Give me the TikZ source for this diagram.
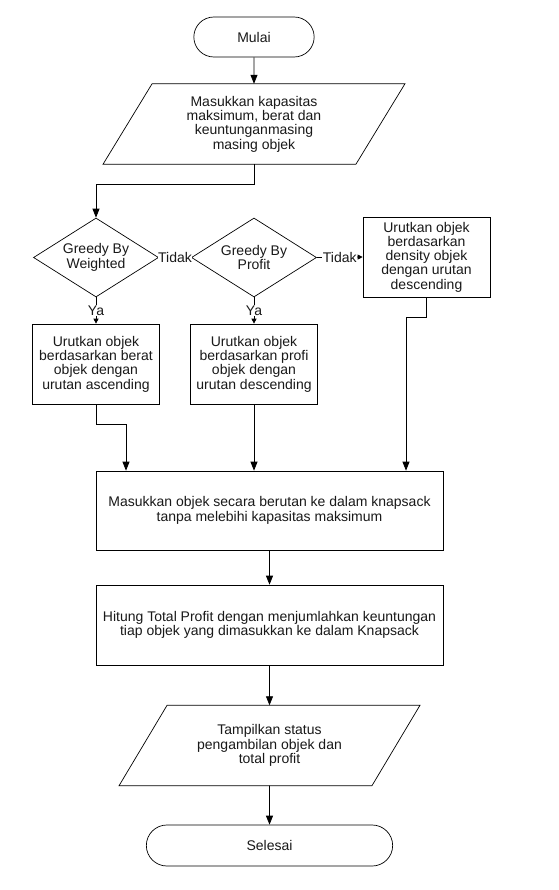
\documentclass[tikz,border=0pt]{standalone}
\usepackage{fontspec}
\setmainfont{Liberation Sans}
\usetikzlibrary{shapes.geometric,shapes.misc,arrows.meta,calc}
\begin{document}
\begin{tikzpicture}[x=1pt,y=1pt,
 every node/.style={font=\fontsize{14}{14.3}\selectfont, text=black!90, align=center},
 term/.style={draw, rounded rectangle, minimum width=127pt, minimum height=40pt, line width=0.7pt},
 proc/.style={draw, rectangle, line width=0.7pt, inner sep=0pt},
 dec/.style={draw, diamond, minimum width=125pt, minimum height=79pt, shape aspect=1.58, inner sep=0pt, line width=0.7pt},
 iobox/.style={rectangle, minimum width=252.5pt, minimum height=80pt, inner sep=0pt},
 para/.style={line width=0.7pt},
 flow/.style={line width=0.8pt, -{Triangle[length=9pt,width=7pt]}},
 sflow/.style={line width=0.8pt, -{Triangle[length=5pt,width=5pt]}},
 lab/.style={fill=white, inner sep=0.5pt}
]
\useasboundingbox (0,0) rectangle (558,-890);
\fill[white] (0,0) rectangle (558,-890);

\node[term] (start) at (254,-37) {Mulai};

\node[iobox] (in1) at (254,-124) {Masukkan kapasitas\\maksimum, berat dan\\keuntunganmasing\\masing objek};
\draw[para] ($(in1.south west)+(-24.5,0)$) -- ($(in1.north west)+(24.5,0)$) -- ($(in1.north east)+(24.5,0)$) -- ($(in1.south east)+(-24.5,0)$) -- cycle;

\node[dec] (d1) at (96,-257.5) {Greedy By\\Weighted};
\node[dec] (d2) at (254,-257.5) {Greedy By\\Profit};
\node[proc, minimum width=127pt, minimum height=80pt] (b3) at (426.5,-257) {Urutkan objek\\berdasarkan\\density objek\\dengan urutan\\descending};

\node[proc, minimum width=127pt, minimum height=80pt] (b1) at (96,-364) {Urutkan objek\\berdasarkan berat\\objek dengan\\urutan ascending};
\node[proc, minimum width=127pt, minimum height=80pt] (b2) at (254,-364) {Urutkan objek\\berdasarkan profi\\objek dengan\\urutan descending};

\node[proc, minimum width=347pt, minimum height=79pt] (b4) at (269.5,-510.5) {Masukkan objek secara berutan ke dalam knapsack\\tanpa melebihi kapasitas maksimum};
\node[proc, minimum width=347pt, minimum height=80pt] (b5) at (269.5,-625) {Hitung Total Profit dengan menjumlahkan keuntungan\\tiap objek yang dimasukkan ke dalam Knapsack};

\node[iobox] (in2) at (269.5,-745.5) {Tampilkan status\\pengambilan objek dan\\total profit};
\draw[para] ($(in2.south west)+(-24,0)$) -- ($(in2.north west)+(24,0)$) -- ($(in2.north east)+(24,0)$) -- ($(in2.south east)+(-24,0)$) -- cycle;

\node[term, minimum width=253pt, minimum height=41pt] (stop) at (269.5,-845.5) {Selesai};

\coordinate (c0) at (96,-184);
\coordinate (c1) at (126,-424);
\coordinate (c3) at (406,-317);

\draw[flow] (start) -- (in1);
\draw[flow] (in1.south) |- (c0) -- (d1.north);
\draw[sflow] (d1.east) -- node[lab]{Tidak} (d2.west);
\draw[sflow] (d2.east) -- node[lab]{Tidak} (b3.west);
\draw[sflow] (d1.south) -- node[lab]{Ya} (b1.north);
\draw[sflow] (d2.south) -- node[lab]{Ya} (b2.north);
\draw[flow] (b1.south) |- (c1) -- (c1 |- b4.north);
\draw[flow] (b2.south) -- (b2.south |- b4.north);
\draw[flow] (b3.south) |- (c3) -- (c3 |- b4.north);
\draw[flow] (b4) -- (b5);
\draw[flow] (b5) -- (in2);
\draw[flow] (in2) -- (stop);
\end{tikzpicture}
\end{document}
